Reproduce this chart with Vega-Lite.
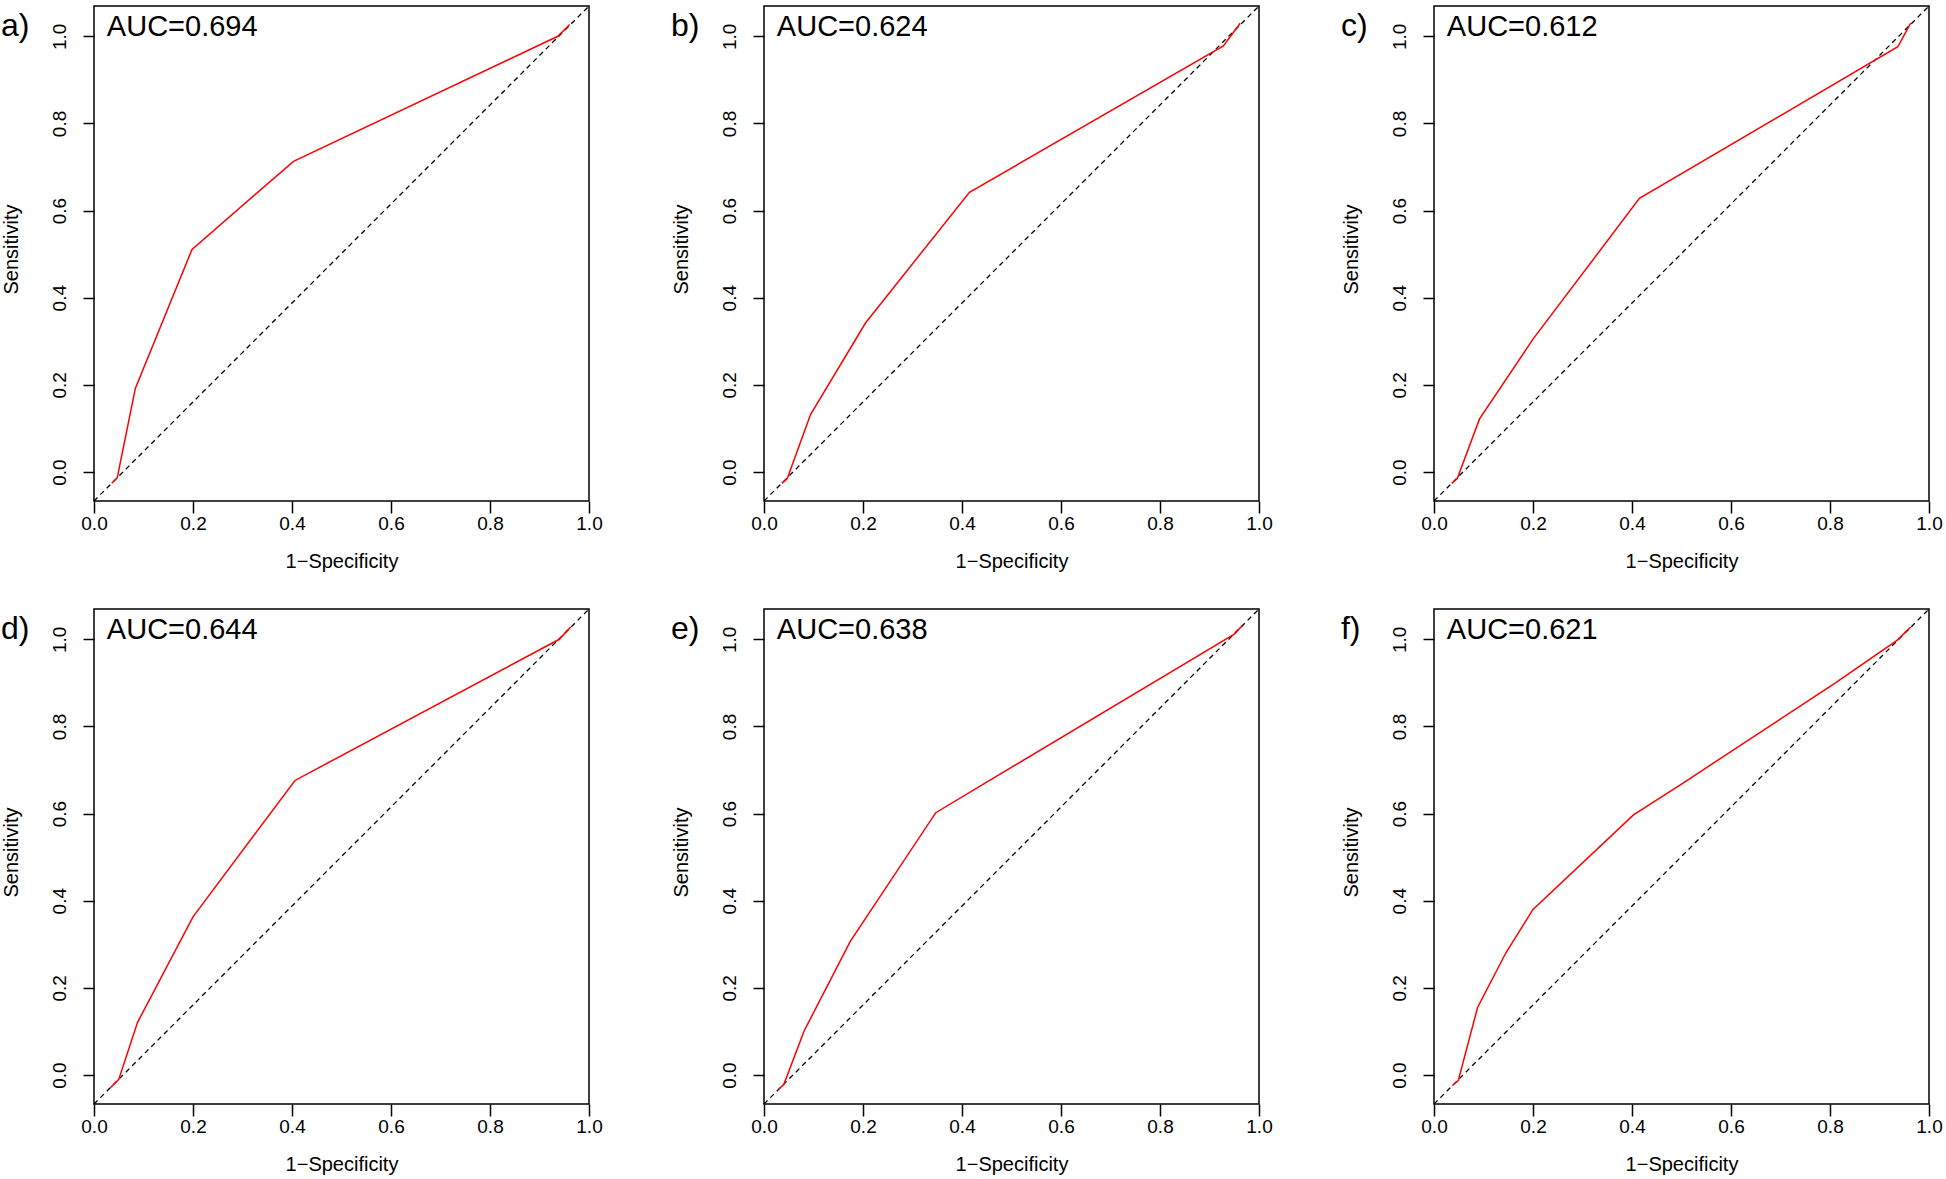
{
  "$schema": "https://vega.github.io/schema/vega-lite/v6.json",
  "background": "white",
  "padding": {"left": 0, "top": 2, "right": 0, "bottom": 0},
  "datasets": {
    "roc": [
      {"panel": "a", "x": 0.036, "y": -0.026}, {"panel": "a", "x": 0.047, "y": -0.013}, {"panel": "a", "x": 0.0835, "y": 0.192}, {"panel": "a", "x": 0.198, "y": 0.511}, {"panel": "a", "x": 0.403, "y": 0.713}, {"panel": "a", "x": 0.937, "y": 1.0}, {"panel": "a", "x": 0.961, "y": 1.027},
      {"panel": "b", "x": 0.036, "y": -0.026}, {"panel": "b", "x": 0.047, "y": -0.015}, {"panel": "b", "x": 0.094, "y": 0.132}, {"panel": "b", "x": 0.205, "y": 0.342}, {"panel": "b", "x": 0.415, "y": 0.642}, {"panel": "b", "x": 0.928, "y": 0.978}, {"panel": "b", "x": 0.962, "y": 1.03},
      {"panel": "c", "x": 0.036, "y": -0.026}, {"panel": "c", "x": 0.047, "y": -0.015}, {"panel": "c", "x": 0.092, "y": 0.122}, {"panel": "c", "x": 0.2, "y": 0.305}, {"panel": "c", "x": 0.415, "y": 0.628}, {"panel": "c", "x": 0.937, "y": 0.976}, {"panel": "c", "x": 0.963, "y": 1.03},
      {"panel": "d", "x": 0.033, "y": -0.029}, {"panel": "d", "x": 0.05, "y": -0.01}, {"panel": "d", "x": 0.088, "y": 0.121}, {"panel": "d", "x": 0.2, "y": 0.363}, {"panel": "d", "x": 0.406, "y": 0.676}, {"panel": "d", "x": 0.94, "y": 1.0}, {"panel": "d", "x": 0.963, "y": 1.028},
      {"panel": "e", "x": 0.03, "y": -0.032}, {"panel": "e", "x": 0.04, "y": -0.022}, {"panel": "e", "x": 0.081, "y": 0.101}, {"panel": "e", "x": 0.174, "y": 0.306}, {"panel": "e", "x": 0.347, "y": 0.602}, {"panel": "e", "x": 0.95, "y": 1.012}, {"panel": "e", "x": 0.966, "y": 1.031},
      {"panel": "f", "x": 0.037, "y": -0.024}, {"panel": "f", "x": 0.049, "y": -0.013}, {"panel": "f", "x": 0.088, "y": 0.155}, {"panel": "f", "x": 0.145, "y": 0.28}, {"panel": "f", "x": 0.2, "y": 0.38}, {"panel": "f", "x": 0.403, "y": 0.597}, {"panel": "f", "x": 0.507, "y": 0.673}, {"panel": "f", "x": 0.811, "y": 0.9}, {"panel": "f", "x": 0.936, "y": 0.998}, {"panel": "f", "x": 0.963, "y": 1.028}
    ],
    "diag": [{"x": 0, "y": -0.0665}, {"x": 1, "y": 1.0695}],
    "labels": [
      {"panel": "a", "letter": "a)", "auc": "AUC=0.694"},
      {"panel": "b", "letter": "b)", "auc": "AUC=0.624"},
      {"panel": "c", "letter": "c)", "auc": "AUC=0.612"},
      {"panel": "d", "letter": "d)", "auc": "AUC=0.644"},
      {"panel": "e", "letter": "e)", "auc": "AUC=0.638"},
      {"panel": "f", "letter": "f)", "auc": "AUC=0.621"}
    ]
  },
  "columns": 3,
  "spacing": {"row": 33, "column": 67},
  "concat": [
    {"width": 495, "height": 495, "layer": [
      {"data": {"name": "diag"}, "mark": {"type": "line", "color": "black", "strokeDash": [5, 4], "strokeWidth": 1.3}, "encoding": {"x": {"field": "x", "type": "quantitative", "scale": {"domain": [0, 1], "nice": false, "zero": false}, "axis": {"values": [0, 0.2, 0.4, 0.6, 0.8, 1], "format": ".1f", "title": "1\u2212Specificity"}}, "y": {"field": "y", "type": "quantitative", "scale": {"domain": [-0.0665, 1.0695], "nice": false, "zero": false}, "axis": {"values": [0, 0.2, 0.4, 0.6, 0.8, 1], "format": ".1f", "title": "Sensitivity"}}}},
      {"data": {"name": "roc"}, "transform": [{"filter": "datum.panel == 'a'"}], "mark": {"type": "line", "color": "#ff0000", "strokeWidth": 1.5}, "encoding": {"x": {"field": "x", "type": "quantitative"}, "y": {"field": "y", "type": "quantitative"}}},
      {"data": {"name": "labels"}, "transform": [{"filter": "datum.panel == 'a'"}], "mark": {"type": "text", "align": "left", "baseline": "alphabetic", "fontSize": 29, "font": "Liberation Sans", "color": "black"}, "encoding": {"x": {"datum": 0.026, "type": "quantitative"}, "y": {"datum": 1.0, "type": "quantitative"}, "text": {"field": "auc"}}},
      {"data": {"name": "labels"}, "transform": [{"filter": "datum.panel == 'a'"}], "mark": {"type": "text", "align": "left", "baseline": "alphabetic", "fontSize": 32, "font": "Liberation Sans", "color": "black"}, "encoding": {"x": {"datum": -0.188, "type": "quantitative"}, "y": {"datum": 1.0, "type": "quantitative"}, "text": {"field": "letter"}}}
    ]},
    {"width": 495, "height": 495, "layer": [
      {"data": {"name": "diag"}, "mark": {"type": "line", "color": "black", "strokeDash": [5, 4], "strokeWidth": 1.3}, "encoding": {"x": {"field": "x", "type": "quantitative", "scale": {"domain": [0, 1], "nice": false, "zero": false}, "axis": {"values": [0, 0.2, 0.4, 0.6, 0.8, 1], "format": ".1f", "title": "1\u2212Specificity"}}, "y": {"field": "y", "type": "quantitative", "scale": {"domain": [-0.0665, 1.0695], "nice": false, "zero": false}, "axis": {"values": [0, 0.2, 0.4, 0.6, 0.8, 1], "format": ".1f", "title": "Sensitivity"}}}},
      {"data": {"name": "roc"}, "transform": [{"filter": "datum.panel == 'b'"}], "mark": {"type": "line", "color": "#ff0000", "strokeWidth": 1.5}, "encoding": {"x": {"field": "x", "type": "quantitative"}, "y": {"field": "y", "type": "quantitative"}}},
      {"data": {"name": "labels"}, "transform": [{"filter": "datum.panel == 'b'"}], "mark": {"type": "text", "align": "left", "baseline": "alphabetic", "fontSize": 29, "font": "Liberation Sans", "color": "black"}, "encoding": {"x": {"datum": 0.026, "type": "quantitative"}, "y": {"datum": 1.0, "type": "quantitative"}, "text": {"field": "auc"}}},
      {"data": {"name": "labels"}, "transform": [{"filter": "datum.panel == 'b'"}], "mark": {"type": "text", "align": "left", "baseline": "alphabetic", "fontSize": 32, "font": "Liberation Sans", "color": "black"}, "encoding": {"x": {"datum": -0.188, "type": "quantitative"}, "y": {"datum": 1.0, "type": "quantitative"}, "text": {"field": "letter"}}}
    ]},
    {"width": 495, "height": 495, "layer": [
      {"data": {"name": "diag"}, "mark": {"type": "line", "color": "black", "strokeDash": [5, 4], "strokeWidth": 1.3}, "encoding": {"x": {"field": "x", "type": "quantitative", "scale": {"domain": [0, 1], "nice": false, "zero": false}, "axis": {"values": [0, 0.2, 0.4, 0.6, 0.8, 1], "format": ".1f", "title": "1\u2212Specificity"}}, "y": {"field": "y", "type": "quantitative", "scale": {"domain": [-0.0665, 1.0695], "nice": false, "zero": false}, "axis": {"values": [0, 0.2, 0.4, 0.6, 0.8, 1], "format": ".1f", "title": "Sensitivity"}}}},
      {"data": {"name": "roc"}, "transform": [{"filter": "datum.panel == 'c'"}], "mark": {"type": "line", "color": "#ff0000", "strokeWidth": 1.5}, "encoding": {"x": {"field": "x", "type": "quantitative"}, "y": {"field": "y", "type": "quantitative"}}},
      {"data": {"name": "labels"}, "transform": [{"filter": "datum.panel == 'c'"}], "mark": {"type": "text", "align": "left", "baseline": "alphabetic", "fontSize": 29, "font": "Liberation Sans", "color": "black"}, "encoding": {"x": {"datum": 0.026, "type": "quantitative"}, "y": {"datum": 1.0, "type": "quantitative"}, "text": {"field": "auc"}}},
      {"data": {"name": "labels"}, "transform": [{"filter": "datum.panel == 'c'"}], "mark": {"type": "text", "align": "left", "baseline": "alphabetic", "fontSize": 32, "font": "Liberation Sans", "color": "black"}, "encoding": {"x": {"datum": -0.188, "type": "quantitative"}, "y": {"datum": 1.0, "type": "quantitative"}, "text": {"field": "letter"}}}
    ]},
    {"width": 495, "height": 495, "layer": [
      {"data": {"name": "diag"}, "mark": {"type": "line", "color": "black", "strokeDash": [5, 4], "strokeWidth": 1.3}, "encoding": {"x": {"field": "x", "type": "quantitative", "scale": {"domain": [0, 1], "nice": false, "zero": false}, "axis": {"values": [0, 0.2, 0.4, 0.6, 0.8, 1], "format": ".1f", "title": "1\u2212Specificity"}}, "y": {"field": "y", "type": "quantitative", "scale": {"domain": [-0.0665, 1.0695], "nice": false, "zero": false}, "axis": {"values": [0, 0.2, 0.4, 0.6, 0.8, 1], "format": ".1f", "title": "Sensitivity"}}}},
      {"data": {"name": "roc"}, "transform": [{"filter": "datum.panel == 'd'"}], "mark": {"type": "line", "color": "#ff0000", "strokeWidth": 1.5}, "encoding": {"x": {"field": "x", "type": "quantitative"}, "y": {"field": "y", "type": "quantitative"}}},
      {"data": {"name": "labels"}, "transform": [{"filter": "datum.panel == 'd'"}], "mark": {"type": "text", "align": "left", "baseline": "alphabetic", "fontSize": 29, "font": "Liberation Sans", "color": "black"}, "encoding": {"x": {"datum": 0.026, "type": "quantitative"}, "y": {"datum": 1.0, "type": "quantitative"}, "text": {"field": "auc"}}},
      {"data": {"name": "labels"}, "transform": [{"filter": "datum.panel == 'd'"}], "mark": {"type": "text", "align": "left", "baseline": "alphabetic", "fontSize": 32, "font": "Liberation Sans", "color": "black"}, "encoding": {"x": {"datum": -0.188, "type": "quantitative"}, "y": {"datum": 1.0, "type": "quantitative"}, "text": {"field": "letter"}}}
    ]},
    {"width": 495, "height": 495, "layer": [
      {"data": {"name": "diag"}, "mark": {"type": "line", "color": "black", "strokeDash": [5, 4], "strokeWidth": 1.3}, "encoding": {"x": {"field": "x", "type": "quantitative", "scale": {"domain": [0, 1], "nice": false, "zero": false}, "axis": {"values": [0, 0.2, 0.4, 0.6, 0.8, 1], "format": ".1f", "title": "1\u2212Specificity"}}, "y": {"field": "y", "type": "quantitative", "scale": {"domain": [-0.0665, 1.0695], "nice": false, "zero": false}, "axis": {"values": [0, 0.2, 0.4, 0.6, 0.8, 1], "format": ".1f", "title": "Sensitivity"}}}},
      {"data": {"name": "roc"}, "transform": [{"filter": "datum.panel == 'e'"}], "mark": {"type": "line", "color": "#ff0000", "strokeWidth": 1.5}, "encoding": {"x": {"field": "x", "type": "quantitative"}, "y": {"field": "y", "type": "quantitative"}}},
      {"data": {"name": "labels"}, "transform": [{"filter": "datum.panel == 'e'"}], "mark": {"type": "text", "align": "left", "baseline": "alphabetic", "fontSize": 29, "font": "Liberation Sans", "color": "black"}, "encoding": {"x": {"datum": 0.026, "type": "quantitative"}, "y": {"datum": 1.0, "type": "quantitative"}, "text": {"field": "auc"}}},
      {"data": {"name": "labels"}, "transform": [{"filter": "datum.panel == 'e'"}], "mark": {"type": "text", "align": "left", "baseline": "alphabetic", "fontSize": 32, "font": "Liberation Sans", "color": "black"}, "encoding": {"x": {"datum": -0.188, "type": "quantitative"}, "y": {"datum": 1.0, "type": "quantitative"}, "text": {"field": "letter"}}}
    ]},
    {"width": 495, "height": 495, "layer": [
      {"data": {"name": "diag"}, "mark": {"type": "line", "color": "black", "strokeDash": [5, 4], "strokeWidth": 1.3}, "encoding": {"x": {"field": "x", "type": "quantitative", "scale": {"domain": [0, 1], "nice": false, "zero": false}, "axis": {"values": [0, 0.2, 0.4, 0.6, 0.8, 1], "format": ".1f", "title": "1\u2212Specificity"}}, "y": {"field": "y", "type": "quantitative", "scale": {"domain": [-0.0665, 1.0695], "nice": false, "zero": false}, "axis": {"values": [0, 0.2, 0.4, 0.6, 0.8, 1], "format": ".1f", "title": "Sensitivity"}}}},
      {"data": {"name": "roc"}, "transform": [{"filter": "datum.panel == 'f'"}], "mark": {"type": "line", "color": "#ff0000", "strokeWidth": 1.5}, "encoding": {"x": {"field": "x", "type": "quantitative"}, "y": {"field": "y", "type": "quantitative"}}},
      {"data": {"name": "labels"}, "transform": [{"filter": "datum.panel == 'f'"}], "mark": {"type": "text", "align": "left", "baseline": "alphabetic", "fontSize": 29, "font": "Liberation Sans", "color": "black"}, "encoding": {"x": {"datum": 0.026, "type": "quantitative"}, "y": {"datum": 1.0, "type": "quantitative"}, "text": {"field": "auc"}}},
      {"data": {"name": "labels"}, "transform": [{"filter": "datum.panel == 'f'"}], "mark": {"type": "text", "align": "left", "baseline": "alphabetic", "fontSize": 32, "font": "Liberation Sans", "color": "black"}, "encoding": {"x": {"datum": -0.188, "type": "quantitative"}, "y": {"datum": 1.0, "type": "quantitative"}, "text": {"field": "letter"}}}
    ]}
  ],
  "config": {
    "font": "Liberation Sans",
    "view": {"stroke": "black", "strokeWidth": 1.5},
    "axis": {"grid": false, "domain": false, "tickColor": "black", "tickWidth": 1.5, "labelColor": "black", "titleColor": "black", "labelFont": "Liberation Sans", "titleFont": "Liberation Sans", "labelFontSize": 19, "titleFontSize": 20, "titleFontWeight": "normal", "labelFlush": false, "labelOverlap": false},
    "axisX": {"tickSize": 12, "labelPadding": 16, "labelBaseline": "alphabetic", "titleBaseline": "alphabetic", "titleY": 66},
    "axisY": {"tickSize": 11, "labelPadding": 18, "labelAngle": -90, "labelAlign": "center", "labelBaseline": "alphabetic", "titleAngle": -90, "titleBaseline": "alphabetic", "titleX": -77, "titleY": 243}
  }
}
